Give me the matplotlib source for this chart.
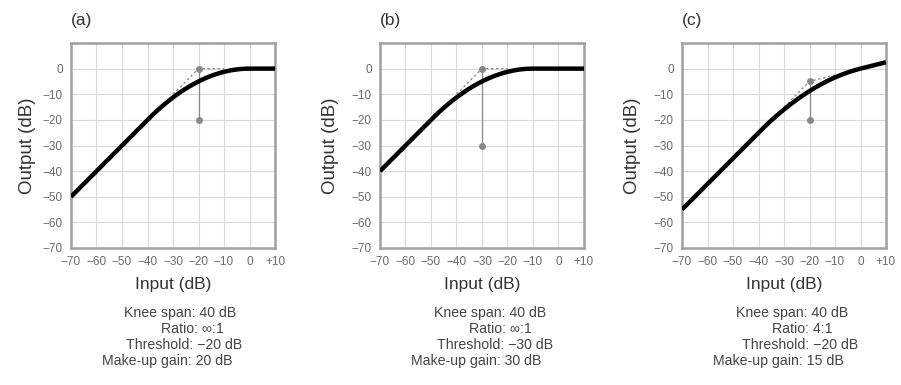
import numpy as np
import matplotlib
matplotlib.use("Agg")
import matplotlib.pyplot as plt

plt.rcParams['font.family'] = ['Liberation Sans', 'DejaVu Sans']

# Compressor settings for each panel
panel_labels = ["(a)", "(b)", "(c)"]
knee_spans = [40, 40, 40]
ratios = [np.inf, np.inf, 4]
ratio_texts = ["\u221e:1", "\u221e:1", "4:1"]
thresholds = [-20, -30, -20]
makeup_gains = [20, 30, 15]

tick_values = [-70, -60, -50, -40, -30, -20, -10, 0, 10]
x_tick_labels = ["\u221270", "\u221260", "\u221250", "\u221240", "\u221230",
                 "\u221220", "\u221210", "0", "+10"]
y_tick_values = [-70, -60, -50, -40, -30, -20, -10, 0]
y_tick_labels = ["\u221270", "\u221260", "\u221250", "\u221240", "\u221230",
                 "\u221220", "\u221210", "0"]

TICK_FONT = ['Liberation Sans Narrow', 'Liberation Sans', 'DejaVu Sans']


def soft_knee(x, T, R, W, G):
    slope = 0.0 if np.isinf(R) else 1.0 / R
    y = np.empty_like(x)
    lo = x < T - W / 2
    hi = x > T + W / 2
    mid = ~(lo | hi)
    y[lo] = x[lo]
    y[hi] = T + (x[hi] - T) * slope
    y[mid] = x[mid] + (slope - 1) * (x[mid] - T + W / 2) ** 2 / (2 * W)
    return y + G


def hard_knee(x, T, R, G):
    slope = 0.0 if np.isinf(R) else 1.0 / R
    return np.where(x < T, x, T + (x - T) * slope) + G


fig = plt.figure(figsize=(9.01, 3.85), dpi=100)
W_PX, H_PX = 901, 385
lefts_px = [71, 380, 682]
ylabel_x = [-0.215, -0.245, -0.245]
text_offsets = [[7, 19, 11, -6], [8, 18, 13, -6], [8, 18, 16, -6]]

for i in range(3):
    ax = fig.add_axes([lefts_px[i] / W_PX, (H_PX - 248) / H_PX,
                       204 / W_PX, 205 / H_PX])
    T, R, W, G = thresholds[i], ratios[i], knee_spans[i], makeup_gains[i]

    ax.set_xlim(-70, 10)
    ax.set_ylim(-70, 10)
    ax.set_xticks(tick_values)
    ax.set_xticklabels(x_tick_labels, family=TICK_FONT)
    ax.set_yticks(y_tick_values)
    ax.set_yticklabels(y_tick_labels, family=TICK_FONT)
    ax.tick_params(length=0, labelsize=8.5, colors="#6a6a6a", pad=6)
    ax.grid(True, color="#d8d8d8", lw=0.8)
    ax.set_axisbelow(True)
    for s in ax.spines.values():
        s.set_color("#a0a0a0")
        s.set_linewidth(1.8)

    # hard-knee reference (dashed)
    xd = np.linspace(T - W / 4, T + W / 4, 50)
    ax.plot(xd, hard_knee(xd, T, R, G), ls=(0, (2, 2)), color="#888888",
            lw=0.9, zorder=2)

    # make-up gain marker
    y_thr = hard_knee(np.array([T]), T, R, G)[0]
    ax.plot([T, T], [T, y_thr], color="#888888", lw=0.9, zorder=2)
    ax.plot([T, T], [T, y_thr], ls="none", marker="o", ms=4,
            color="#888888", zorder=3)

    # soft-knee transfer curve
    xs = np.linspace(-70, 10, 400)
    ax.plot(xs, soft_knee(xs, T, R, W, G), color="black", lw=3.2,
            solid_capstyle="butt", zorder=4)

    ax.set_xlabel("Input (dB)", fontsize=12.5, color="#333333")
    ax.xaxis.set_label_coords(0.5, -0.18)
    ax.xaxis.label.set_va("center")
    ax.set_ylabel("Output (dB)", fontsize=13.5, color="#333333")
    ax.yaxis.set_label_coords(ylabel_x[i], 0.5)
    ax.yaxis.label.set_va("center")

    ax.text(0.0, 1.11, panel_labels[i], transform=ax.transAxes,
            fontsize=12.5, color="#333333", ha="left", va="center")

    lines = [f"Knee span: {W} dB",
             f"Ratio: {ratio_texts[i]}",
             f"Threshold: \u2212{abs(T)} dB",
             f"Make-up gain: {G} dB"]
    ys = [-0.319, -0.397, -0.475, -0.551]
    for line, yy, off in zip(lines, ys, text_offsets[i]):
        ax.text(0.5 + off / 204, yy, line, transform=ax.transAxes,
                fontsize=10.2, color="#444444", ha="center", va="center")

fig.savefig("out.png", dpi=100, facecolor="white")
